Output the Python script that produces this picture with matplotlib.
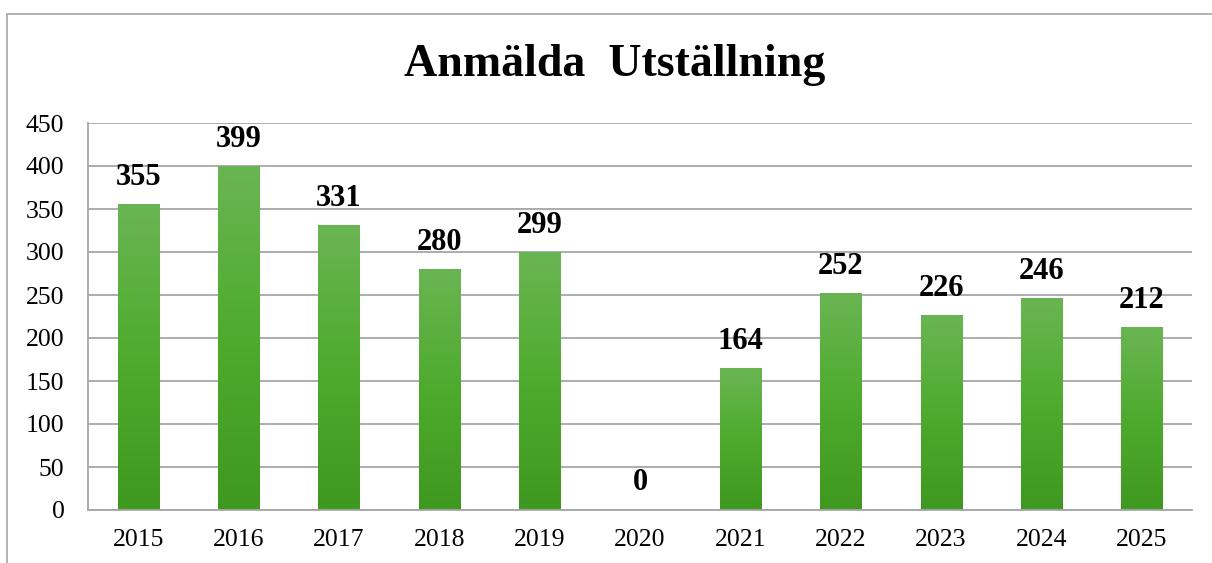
import numpy as np
import matplotlib
matplotlib.use("Agg")
import matplotlib.pyplot as plt
from matplotlib.colors import LinearSegmentedColormap
from matplotlib.patches import Rectangle

years = ["2015", "2016", "2017", "2018", "2019", "2020", "2021", "2022", "2023", "2024", "2025"]
registered = [355, 399, 331, 280, 299, 0, 164, 252, 226, 246, 212]
title = "Anmälda  Utställning"

plt.rcParams["font.family"] = ["Liberation Serif", "DejaVu Serif"]

fig = plt.figure(figsize=(12.12, 5.63), dpi=100)
ax = fig.add_axes([88 / 1212, 1 - 510 / 563, (1192 - 88) / 1212, (510 - 123) / 563])

x = np.arange(len(years))
bars = ax.bar(x, registered, width=0.41, color="none", edgecolor="none", zorder=2)

# vertical gradient, light at top, darker at bottom
green = LinearSegmentedColormap.from_list("grn", ["#3f981f", "#4eab2d", "#6ab553"])
grad = np.linspace(0, 1, 256).reshape(-1, 1)
for b in bars:
    h = b.get_height()
    if h <= 0:
        continue
    ax.imshow(grad, cmap=green, aspect="auto", origin="lower",
              extent=(b.get_x(), b.get_x() + b.get_width(), 0, h), zorder=2)

for b, v in zip(bars, registered):
    ax.annotate(str(v), (b.get_x() + b.get_width() / 2, v), xytext=(0, 9),
                textcoords="offset points", ha="center", va="bottom",
                fontsize=22, fontweight="bold", color="black", zorder=3)

ax.set_xlim(-0.5, len(years) - 0.5)
ax.set_ylim(0, 450)
ax.set_yticks(np.arange(0, 451, 50))
ax.set_xticks(x)
ax.set_xticklabels(years)
ax.tick_params(axis="both", length=0, labelsize=18.5, colors="black")
ax.tick_params(axis="y", pad=17)
ax.tick_params(axis="x", pad=14)
ax.yaxis.grid(True, color="#a6a6a6", linewidth=1.3, zorder=0)
ax.set_axisbelow(True)
for side in ["top", "right"]:
    ax.spines[side].set_visible(False)
for side in ["left", "bottom"]:
    ax.spines[side].set_color("#a6a6a6")
    ax.spines[side].set_linewidth(1.3)

fig.text(615 / 1212, 1 - 65 / 563, title, ha="center", va="center",
         fontsize=33, fontweight="bold")

fig.patches.append(Rectangle((7 / 1212, -0.05), 1.1, 1 - 14 / 563 + 0.05,
                             transform=fig.transFigure, fill=False,
                             edgecolor="#a6a6a6", linewidth=1.2))

fig.savefig("out.png", dpi=100)
